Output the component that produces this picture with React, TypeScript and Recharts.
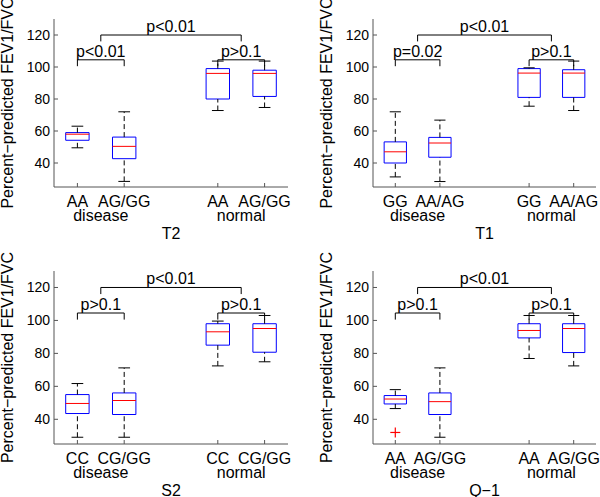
import React from 'react';
import {
  ComposedChart,
  XAxis,
  YAxis,
  ReferenceArea,
  ReferenceLine,
  Scatter,
} from 'recharts';

// ---------- data ----------
const yTicks = [40, 60, 80, 100, 120];
const yDomain = [25, 130];
const xDomain = [0.5, 5.5];
const boxPositions = [1, 2, 4, 5];
const groupPositions = [1.5, 4.5];
const titlePosition = 3;
const groupNames = ['disease', 'normal'];
const yLabelText = 'Percent\u2212predicted FEV1/FVC';

const genes = ['T2', 'T1', 'S2', 'Q\u22121'];

const catsT2 = ['AA', 'AG/GG', 'AA', 'AG/GG'];
const catsT1 = ['GG', 'AA/AG', 'GG', 'AA/AG'];
const catsS2 = ['CC', 'CG/GG', 'CC', 'CG/GG'];
const catsQ1 = ['AA', 'AG/GG', 'AA', 'AG/GG'];

// [lower whisker, q1, median, q3, upper whisker]
const statsT2 = [
  [49.5, 54.2, 58, 59, 63],
  [28.5, 42.7, 50.4, 56.2, 72],
  [72.8, 80, 96, 99, 103.7],
  [74.7, 81.6, 96, 98, 103.7],
];
const statsT1 = [
  [31.3, 40, 47, 53.2, 72],
  [28.4, 43.6, 52.5, 56, 66.8],
  [75.5, 81, 96.2, 99, 99.5],
  [72.8, 81, 96.2, 98.3, 103.7],
];
const statsS2 = [
  [29.1, 43.5, 49.6, 55, 61.7],
  [29.1, 42.9, 51.4, 56, 71.2],
  [72.4, 85, 93.1, 98, 99.6],
  [74.9, 80.7, 95.1, 98, 103],
];
const statsQ1 = [
  [46.5, 49.3, 52.3, 54.4, 58],
  [29.1, 42.9, 50.7, 56, 71.2],
  [76.9, 89.4, 93.9, 98, 103],
  [72.4, 80.5, 95.1, 98, 103],
];

const outliersT2: { x: number; y: number }[] = [];
const outliersT1: { x: number; y: number }[] = [];
const outliersS2: { x: number; y: number }[] = [];
const outliersQ1 = [{ x: 1, y: 32 }];

// p-value labels: [between groups, within disease, within normal]
const pT2 = ['p<0.01', 'p<0.01', 'p>0.1'];
const pT1 = ['p<0.01', 'p=0.02', 'p>0.1'];
const pS2 = ['p<0.01', 'p>0.1', 'p>0.1'];
const pQ1 = ['p<0.01', 'p>0.1', 'p>0.1'];

// bracket levels [bar, leg end]
const outerBracket = [120, 116];
const innerBracket = [104.5, 100.5];

// ---------- styling ----------
const FONT = 'Liberation Sans, Arial, Helvetica, sans-serif';
const AXIS = '#555';
const BOX_HALF = 0.25;
const CAP_HALF = 0.125;

type PanelProps = {
  gene: string;
  cats: string[];
  stats: number[][];
  outliers: { x: number; y: number }[];
  pLabels: string[];
  left: number;
  top: number;
  height: number;
  marginTop: number;
  marginRight: number;
  yAxisWidth: number;
  xAxisHeight: number;
};

const XTick = (props: any) => {
  const { x, y, payload, cats, gene } = props;
  const v = payload.value;
  const bi = boxPositions.indexOf(v);
  const gi = groupPositions.indexOf(v);
  if (bi >= 0) {
    return (
      <g>
        <line x1={x} x2={x} y1={y} y2={y - 4} stroke={AXIS} />
        <text x={x} y={y + 20} textAnchor="middle" fontSize={16} fontFamily={FONT} fill="#000">
          {cats[bi]}
        </text>
      </g>
    );
  }
  if (gi >= 0) {
    return (
      <text x={x} y={y + 34} textAnchor="middle" fontSize={16} fontFamily={FONT} fill="#000">
        {groupNames[gi]}
      </text>
    );
  }
  if (v === titlePosition) {
    return (
      <text x={x} y={y + 52} textAnchor="middle" fontSize={16} fontFamily={FONT} fill="#000">
        {gene}
      </text>
    );
  }
  return null;
};

const YTick = (props: any) => {
  const { x, y, payload } = props;
  return (
    <g>
      <line x1={x + 4} x2={x + 8} y1={y} y2={y} stroke={AXIS} />
      <text x={x} y={y + 5} textAnchor="end" fontSize={14} fontFamily={FONT} fill="#000">
        {payload.value}
      </text>
    </g>
  );
};

const makeYLabel = (offset: number) => (props: any) => {
  const vb = props.viewBox || { x: 0, y: 0, width: 0, height: 0 };
  const x = vb.x + vb.width - offset;
  const y = vb.y + vb.height / 2;
  return (
    <text
      x={x}
      y={y}
      transform={`rotate(-90 ${x} ${y})`}
      textAnchor="middle"
      fontSize={16}
      fontFamily={FONT}
      fill="#000"
    >
      {yLabelText}
    </text>
  );
};

const Cross = (props: any) => {
  const { cx, cy } = props;
  return (
    <g>
      <line x1={cx - 5} x2={cx + 5} y1={cy} y2={cy} stroke="#ff0000" strokeWidth={1.2} />
      <line x1={cx} x2={cx} y1={cy - 5} y2={cy + 5} stroke="#ff0000" strokeWidth={1.2} />
    </g>
  );
};

const pLabel = (value: string) => ({
  value,
  position: 'top' as const,
  offset: 3,
  fill: '#000',
  fontSize: 16,
  fontFamily: FONT,
});

function Panel(p: PanelProps) {
  const xTicks = [...boxPositions, ...groupPositions, titlePosition].sort((a, b) => a - b);
  const els: React.ReactNode[] = [];
  p.stats.forEach((s, i) => {
    const pos = boxPositions[i];
    const [lo, q1, med, q3, hi] = s;
    els.push(
      <ReferenceLine key={`wu${i}`} segment={[{ x: pos, y: q3 }, { x: pos, y: hi }]} stroke="#000" strokeDasharray="5 3" />,
      <ReferenceLine key={`wl${i}`} segment={[{ x: pos, y: lo }, { x: pos, y: q1 }]} stroke="#000" strokeDasharray="5 3" />,
      <ReferenceLine key={`cu${i}`} segment={[{ x: pos - CAP_HALF, y: hi }, { x: pos + CAP_HALF, y: hi }]} stroke="#000" />,
      <ReferenceLine key={`cl${i}`} segment={[{ x: pos - CAP_HALF, y: lo }, { x: pos + CAP_HALF, y: lo }]} stroke="#000" />,
      <ReferenceArea key={`b${i}`} x1={pos - BOX_HALF} x2={pos + BOX_HALF} y1={q1} y2={q3} fill="none" fillOpacity={0} stroke="#0000ff" strokeOpacity={1} />,
      <ReferenceLine key={`m${i}`} segment={[{ x: pos - BOX_HALF, y: med }, { x: pos + BOX_HALF, y: med }]} stroke="#ff0000" />
    );
  });

  // brackets
  const g0 = groupPositions[0];
  const g1 = groupPositions[1];
  const bracket = (key: string, xa: number, xb: number, lev: number[], label: string) => [
    <ReferenceLine key={`${key}h`} segment={[{ x: xa, y: lev[0] }, { x: xb, y: lev[0] }]} stroke="#000" label={pLabel(label)} />,
    <ReferenceLine key={`${key}l`} segment={[{ x: xa, y: lev[1] }, { x: xa, y: lev[0] }]} stroke="#000" />,
    <ReferenceLine key={`${key}r`} segment={[{ x: xb, y: lev[1] }, { x: xb, y: lev[0] }]} stroke="#000" />,
  ];
  els.push(...bracket('o', g0, g1, outerBracket, p.pLabels[0]));
  els.push(...bracket('d', boxPositions[0], boxPositions[1], innerBracket, p.pLabels[1]));
  els.push(...bracket('n', boxPositions[2], boxPositions[3], innerBracket, p.pLabels[2]));

  return (
    <div style={{ position: 'absolute', left: p.left, top: p.top, width: 300, height: p.height }}>
      <ComposedChart
        width={300}
        height={p.height}
        data={p.outliers}
        margin={{ top: p.marginTop, right: p.marginRight, left: 0, bottom: 0 }}
      >
        <XAxis
          type="number"
          dataKey="x"
          domain={xDomain}
          ticks={xTicks}
          interval={0}
          allowDataOverflow
          height={p.xAxisHeight}
          axisLine={{ stroke: AXIS }}
          tickLine={false}
          tickSize={0}
          tickMargin={0}
          tick={<XTick cats={p.cats} gene={p.gene} />}
        />
        <YAxis
          type="number"
          dataKey="y"
          domain={yDomain}
          ticks={yTicks}
          interval={0}
          allowDataOverflow
          width={p.yAxisWidth}
          axisLine={{ stroke: AXIS }}
          tickLine={false}
          tickSize={0}
          tickMargin={4}
          tick={<YTick />}
          label={makeYLabel(41)}
        />
        {els}
        <Scatter data={p.outliers} dataKey="y" isAnimationActive={false} shape={<Cross />} />
      </ComposedChart>
    </div>
  );
}

export default function App() {
  return (
    <div style={{ position: 'absolute', left: 0, top: 0, width: 600, height: 497, background: '#fff', overflow: 'hidden' }}>
      <Panel gene={genes[0]} cats={catsT2} stats={statsT2} outliers={outliersT2} pLabels={pT2}
        left={0} top={0} height={250} marginTop={19} marginRight={12} yAxisWidth={54} xAxisHeight={63} />
      <Panel gene={genes[1]} cats={catsT1} stats={statsT1} outliers={outliersT1} pLabels={pT1}
        left={300} top={0} height={250} marginTop={19} marginRight={4} yAxisWidth={73} xAxisHeight={63} />
      <Panel gene={genes[2]} cats={catsS2} stats={statsS2} outliers={outliersS2} pLabels={pS2}
        left={0} top={250} height={247} marginTop={21} marginRight={12} yAxisWidth={54} xAxisHeight={53} />
      <Panel gene={genes[3]} cats={catsQ1} stats={statsQ1} outliers={outliersQ1} pLabels={pQ1}
        left={300} top={250} height={247} marginTop={21} marginRight={4} yAxisWidth={73} xAxisHeight={53} />
    </div>
  );
}
